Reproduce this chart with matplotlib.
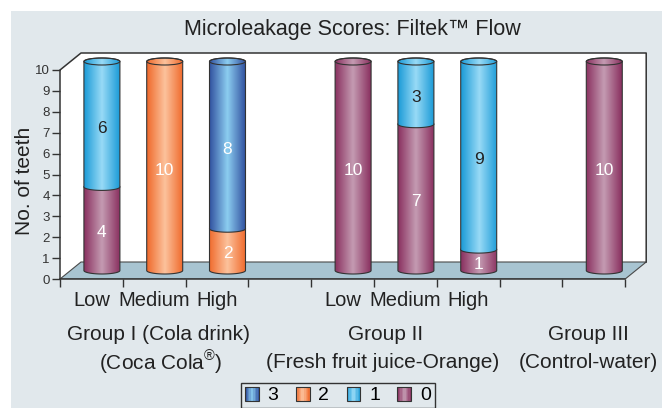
import numpy as np
import matplotlib
matplotlib.use("Agg")
import matplotlib.pyplot as plt
from matplotlib.patches import Rectangle, Polygon, Ellipse, Patch
from matplotlib.colors import LinearSegmentedColormap
from matplotlib.legend_handler import HandlerBase
from matplotlib import transforms

plt.rcParams['font.family'] = ['Liberation Sans', 'DejaVu Sans']
plt.rcParams['mathtext.fontset'] = 'custom'
plt.rcParams['mathtext.rm'] = 'Liberation Sans'

# --- data ---
positions = [0, 1, 2, 4, 5, 6, 8]          # slot of each bar
bar_labels = ["Low", "Medium", "High", "Low", "Medium", "High", ""]
score0 = [4, 0, 0, 10, 7, 1, 10]
score1 = [6, 0, 0, 0, 3, 9, 0]
score2 = [0, 10, 2, 0, 0, 0, 0]
score3 = [0, 0, 8, 0, 0, 0, 0]
legend_order = ["3", "2", "1", "0"]
group_line1 = ["Group I (Cola drink)", "Group II", "Group III"]
group_line2 = [r"(Coca Cola$^{\mathrm{®}}$)", "(Fresh fruit juice-Orange)", "(Control-water)"]

# colours per score: (edge, highlight)
shades = {
    "0": ("#8a3160", "#c49bb2"),
    "1": ("#1b9bd7", "#98daf6"),
    "2": ("#f06a2c", "#fcc29c"),
    "3": ("#2f4f9e", "#8ccdf0"),
}
label_colors = {"0": "white", "1": "#222222", "2": "white", "3": "white"}
BG = "#e1e8ec"
LINE = "#333333"

# geometry (pixels -> data)
PX_X, PX_Y = 62.8, 20.9
DX, DY = 21 / PX_X, 17 / PX_Y          # depth of the 3D box
BW, EH = 36 / PX_X, 7 / PX_Y           # cylinder width, ellipse height
XMAX, YMAX = 9 + DX + 0.05, 10 + DY + 0.15

W, H = 662, 408
fig = plt.figure(figsize=(W / 100, H / 100), dpi=100, facecolor="white")
fig.patches.append(Rectangle((11 / W, 0), 1, (H - 11) / H, transform=fig.transFigure,
                             facecolor=BG, edgecolor="none", zorder=-10))

x0_px, y0_px = 60, 279
ax = fig.add_axes([x0_px / W, (H - y0_px) / H, XMAX * PX_X / W, YMAX * PX_Y / H])
ax.set_facecolor("none")
ax.set_xlim(0, XMAX)
ax.set_ylim(0, YMAX)

# walls and floor
ax.add_patch(Polygon([(0, 0), (DX, DY), (DX, 10 + DY), (0, 10)], facecolor="white",
                     edgecolor="none", zorder=0.5))
ax.add_patch(Polygon([(DX, DY), (9 + DX, DY), (9 + DX, 10 + DY), (DX, 10 + DY)],
                     facecolor="white", edgecolor="none", zorder=0.5))
ax.add_patch(Polygon([(0, 0), (9, 0), (9 + DX, DY), (DX, DY)], facecolor="#a8c4d1",
                     edgecolor="#4a4a4a", lw=0.8, zorder=1))
ax.plot([0, DX, 9 + DX, 9 + DX], [10, 10 + DY, 10 + DY, DY], color=LINE, lw=1.1, zorder=1.2)

for s in ["top", "right"]:
    ax.spines[s].set_visible(False)
ax.spines["left"].set_bounds(0, 10)
ax.spines["bottom"].set_bounds(0, 9)
for s in ["left", "bottom"]:
    ax.spines[s].set_color(LINE)
    ax.spines[s].set_linewidth(1.1)
ax.set_yticks(range(11))
ax.set_xticks(range(10))
ax.set_xticklabels([])
ax.tick_params(axis="y", length=6, width=1, color=LINE, labelsize=9.5, labelcolor="#333333", pad=1.5)
ax.tick_params(axis="x", length=6, width=1, color=LINE)


def cylinder(xc, y0, y1):
    t = np.linspace(np.pi, 2 * np.pi, 40)
    t2 = np.linspace(0, np.pi, 40)
    xs = np.r_[xc + BW / 2 * np.cos(t), xc + BW / 2 * np.cos(t2)]
    ys = np.r_[y0 + EH / 2 * np.sin(t), y1 + EH / 2 * np.sin(t2)]
    return np.column_stack([xs, ys])


def shade_cmap(k):
    return LinearSegmentedColormap.from_list("c" + k, [shades[k][0], shades[k][1], shades[k][0]])


grad = np.linspace(0, 1, 200).reshape(1, -1)
series = {"0": score0, "1": score1, "2": score2, "3": score3}
for i, pos in enumerate(positions):
    xc = pos + 0.5 + DX / 2
    bottom = DY / 2
    vals = [(k, series[k][i]) for k in ["0", "1", "2", "3"] if series[k][i] > 0]
    for j, (k, v) in enumerate(vals):
        y0, y1 = bottom, bottom + v
        z = 3 + 2 * j
        poly = Polygon(cylinder(xc, y0, y1), closed=True, facecolor="none",
                       edgecolor=LINE, lw=0.8, zorder=z + 0.5)
        ax.add_patch(poly)
        im = ax.imshow(grad, cmap=shade_cmap(k), aspect="auto", zorder=z,
                       extent=(xc - BW / 2, xc + BW / 2, y0 - EH / 2, y1 + EH / 2))
        im.set_clip_path(poly)
        ax.text(xc, (y0 + y1) / 2 - 0.2, str(v), ha="center", va="center", fontsize=12.5,
                color=label_colors[k], zorder=20)
        if j == len(vals) - 1:
            ax.add_patch(Ellipse((xc, y1), BW, EH, facecolor="none", edgecolor=LINE,
                                 lw=0.8, zorder=z + 0.6))
        bottom = y1

ax.set_xlim(0, XMAX)
ax.set_ylim(0, YMAX)

# category and group labels
bt = transforms.blended_transform_factory(ax.transData, fig.transFigure)
for pos, lab in zip(positions, bar_labels):
    ax.text(pos + 0.5, 1 - 301 / H, lab, transform=bt, ha="center", va="center",
            fontsize=14.5, color="#222222")
g1_x = [1.57, 5.19, 8.41]
g2_x = [1.6, 5.14, 8.41]
for x, t in zip(g1_x, group_line1):
    ax.text(x, 1 - 334 / H, t, transform=bt, ha="center", va="center", fontsize=15, color="#222222")
for x, t in zip(g2_x, group_line2):
    ax.text(x, 1 - 362 / H, t, transform=bt, ha="center", va="center", fontsize=15, color="#222222")

fig.text(352 / W, 1 - 29 / H, "Microleakage Scores: Filtek™ Flow", ha="center", va="center",
         fontsize=15.5, color="#222222")
fig.text(25 / W, 1 - 181 / H, "No. of teeth", rotation=90, ha="center", va="center",
         fontsize=15, color="#222222")


class GradientSquare(HandlerBase):
    def create_artists(self, legend, orig_handle, xdescent, ydescent, width, height,
                       fontsize, trans):
        k = orig_handle.get_label()
        cm = shade_cmap(k)
        n = 10
        arts = []
        for m in range(n):
            arts.append(Rectangle((-xdescent + width * m / n, -ydescent), width / n + 0.3, height,
                                  facecolor=cm((m + 0.5) / n), edgecolor="none", transform=trans))
        arts.append(Rectangle((-xdescent, -ydescent), width, height, facecolor="none",
                              edgecolor=LINE, lw=0.8, transform=trans))
        return arts


handles = [Patch(label=k) for k in legend_order]
fig.legend(handles=handles, loc="upper center", bbox_to_anchor=(338 / W, 1 - 383 / H), ncol=4,
           fontsize=14, frameon=True, fancybox=False, edgecolor=LINE, facecolor=BG,
           framealpha=1, handlelength=0.7, handleheight=0.7, handletextpad=0.45,
           columnspacing=0.9, borderpad=0.2, borderaxespad=0,
           handler_map={Patch: GradientSquare()})

fig.savefig("out.png", dpi=100, facecolor="white")
